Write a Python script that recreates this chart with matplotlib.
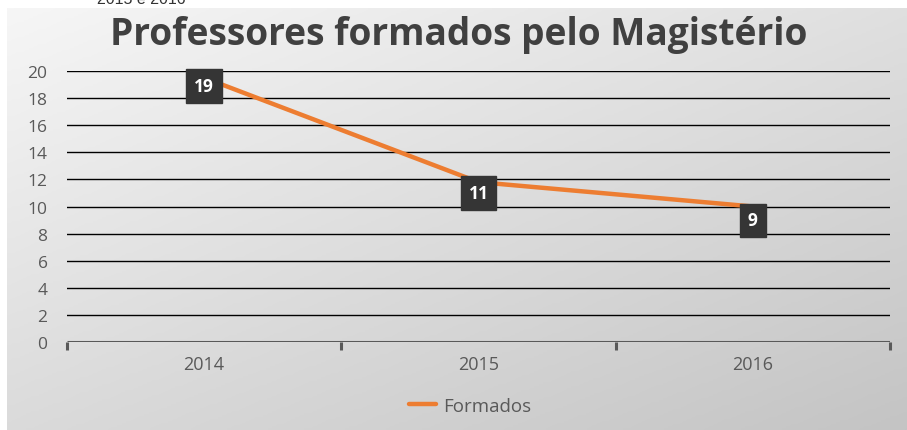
import numpy as np
import matplotlib.pyplot as plt

# data
anos = ["2014", "2015", "2016"]
formados = [19.5, 11.8, 10.0]
rotulos = ["19", "11", "9"]
y_ticks = list(range(0, 21, 2))

LARANJA = "#ED7D31"
CINZA_TXT = "#595959"
FONTE = "Open Sans"

fig = plt.figure(figsize=(9.07, 4.31), dpi=100)
fig.patch.set_facecolor("white")

# gradient background of the chart box
bg = fig.add_axes([7 / 907, 0, 900 / 907, 422 / 431], zorder=0)
gx, gy = np.meshgrid(np.linspace(0, 1, 200), np.linspace(0, 1, 200))
grad = 0.55 * gy + 0.45 * gx
bg.imshow(grad, cmap=plt.cm.colors.LinearSegmentedColormap.from_list(
    "g", ["#f6f6f6", "#c4c4c4"]), aspect="auto", extent=[0, 1, 1, 0],
    vmin=0, vmax=1)
bg.set_axis_off()

# clipped caption from above the chart
fig.text(97 / 907, 1 - 4.5 / 431, "2015 e 2016", fontsize=11.5,
         family="Liberation Sans", color="#333333", va="baseline", ha="left")

ax = fig.add_axes([67 / 907, 1 - 343 / 431, 823 / 907, 271 / 431], zorder=1)
ax.patch.set_alpha(0)

x = np.arange(len(anos))
ax.set_xlim(-0.5, len(anos) - 0.5)
ax.set_ylim(0, 20)

for v in y_ticks[1:]:
    ax.axhline(v, color="black", lw=1.0, zorder=1)
ax.axhline(0, color=CINZA_TXT, lw=2.2, zorder=2, solid_capstyle="butt")

ax.plot(x, formados, color=LARANJA, lw=3.2, zorder=3,
        solid_capstyle="round", label="Formados")

offsets = [-8, -11, -14]
for xi, v, txt, off in zip(x, formados, rotulos, offsets):
    ax.annotate(txt, (xi, v), xytext=(0, off), textcoords="offset pixels",
                ha="center", va="center", color="white", fontsize=12.5,
                fontweight="bold", family=FONTE, zorder=4,
                bbox=dict(boxstyle="square,pad=0.45", fc="#353535",
                          ec="#353535"))

for s in ax.spines.values():
    s.set_visible(False)

ax.set_yticks(y_ticks)
ax.set_yticklabels([str(v) for v in y_ticks])
ax.tick_params(axis="y", length=0, pad=14, labelsize=12.5,
               labelcolor=CINZA_TXT)
for lb in ax.get_yticklabels():
    lb.set_family(FONTE)

ax.set_xticks(np.arange(-0.5, len(anos), 1.0))
ax.set_xticklabels([])
ax.tick_params(axis="x", length=6, width=2.2, color=CINZA_TXT,
               direction="out")
for xi, a in zip(x, anos):
    ax.text(xi, -1.6, a, ha="center", va="center", fontsize=13,
            family=FONTE, color=CINZA_TXT)

fig.text(459 / 907, 1 - 35 / 431, "Professores formados pelo Magistério",
         ha="center", va="center", fontsize=26.7, fontweight="bold",
         family=FONTE, color="#404040")

leg = ax.legend(loc="center", bbox_to_anchor=(470 / 907, 1 - 407 / 431),
                bbox_transform=fig.transFigure, frameon=False,
                handlelength=1.45, handletextpad=0.4, fontsize=13.5)
for t in leg.get_texts():
    t.set_color(CINZA_TXT)
    t.set_family(FONTE)

fig.savefig("out.png", dpi=100)
